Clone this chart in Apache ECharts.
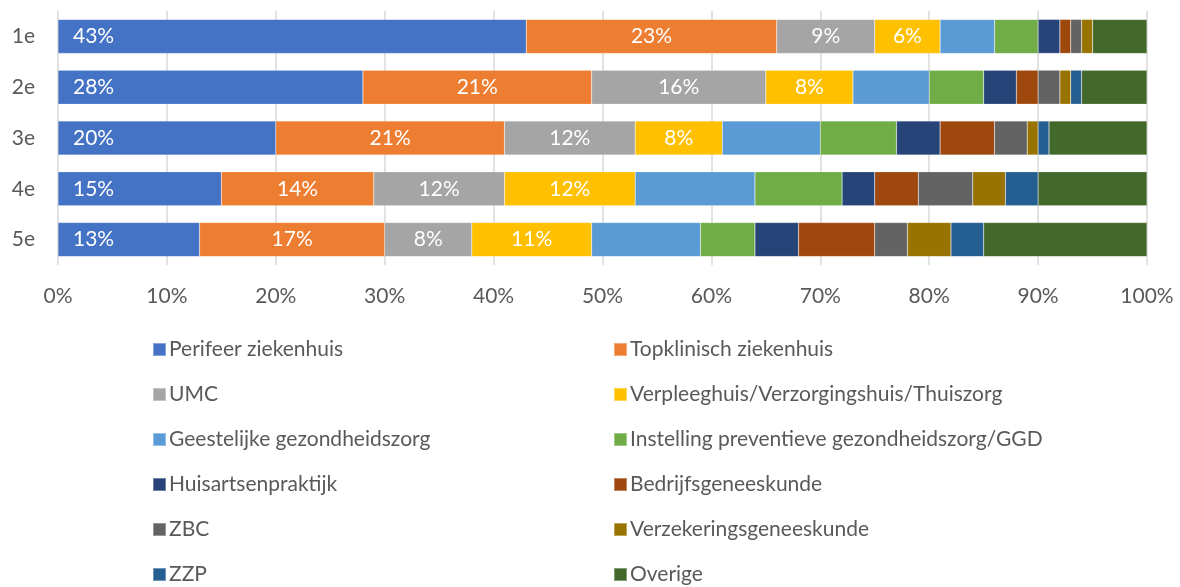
<!DOCTYPE html>
<html>
<head>
<meta charset="utf-8">
<script src="https://cdn.jsdelivr.net/npm/echarts@6/dist/echarts.min.js"></script>
<style>
  html, body { margin: 0; padding: 0; background: #fff; }
  #chart { width: 1180px; height: 587px; }
</style>
</head>
<body>
<div id="chart"></div>
<script>
var categories = ["1e", "2e", "3e", "4e", "5e"];
var seriesNames = [
  "Perifeer ziekenhuis", "Topklinisch ziekenhuis", "UMC",
  "Verpleeghuis/Verzorgingshuis/Thuiszorg", "Geestelijke gezondheidszorg",
  "Instelling preventieve gezondheidszorg/GGD", "Huisartsenpraktijk",
  "Bedrijfsgeneeskunde", "ZBC", "Verzekeringsgeneeskunde", "ZZP", "Overige"
];
// percentages per series, in category order 1e..5e
var perifeer = [43, 28, 20, 15, 13];
var topklinisch = [23, 21, 21, 14, 17];
var umc = [9, 16, 12, 12, 8];
var verpleeghuis = [6, 8, 8, 12, 11];
var geestelijke = [5, 7, 9, 11, 10];
var preventief = [4, 5, 7, 8, 5];
var huisarts = [2, 3, 4, 3, 4];
var bedrijf = [1, 2, 5, 4, 7];
var zbc = [1, 2, 3, 5, 3];
var verzekering = [1, 1, 1, 3, 4];
var zzp = [0, 1, 1, 3, 3];
var overige = [5, 6, 9, 10, 15];
var xTicks = [0, 10, 20, 30, 40, 50, 60, 70, 80, 90, 100];

var allData = [perifeer, topklinisch, umc, verpleeghuis, geestelijke, preventief,
  huisarts, bedrijf, zbc, verzekering, zzp, overige];
var colors = ["#4472C4", "#ED7D31", "#A5A5A5", "#FFC000", "#5B9BD5", "#70AD47",
  "#264478", "#9E480E", "#636363", "#997300", "#255E91", "#43682B"];

var font = "Lato, 'Liberation Sans', sans-serif";
var series = seriesNames.map(function (name, i) {
  return {
    name: name,
    type: "bar",
    stack: "total",
    barCategoryGap: "33%",
    data: allData[i],
    itemStyle: { color: colors[i], borderColor: "rgba(255,255,255,0.35)", borderWidth: 0.5 },
    label: {
      show: i < 4,
      position: i === 0 ? "insideLeft" : "inside",
      distance: 15,
      color: "#fff",
      fontSize: 21,
      fontFamily: font,
      formatter: "{c}%"
    }
  };
});

function legendCol(names, left) {
  return {
    data: names,
    orient: "vertical",
    left: left,
    top: 334,
    height: 300,
    itemWidth: 13,
    itemHeight: 13,
    itemGap: 24,
    icon: "rect",
    textStyle: { color: "#595959", fontSize: 21, fontFamily: font, padding: [0, 0, 0, -2] }
  };
}

var chart = echarts.init(document.getElementById("chart"));
chart.setOption({
  animation: false,
  color: colors,
  grid: { left: 58, right: 33, top: 11, bottom: 322, containLabel: false },
  xAxis: {
    type: "value",
    min: 0,
    max: 100,
    interval: 10,
    axisLine: { show: false },
    axisTick: { show: false },
    splitLine: { show: true, lineStyle: { color: "#d9d9d9", width: 1.5 } },
    axisLabel: {
      color: "#595959", fontSize: 21, fontFamily: font, margin: 21,
      formatter: function (v) { return xTicks.indexOf(v) >= 0 ? v + "%" : ""; }
    }
  },
  yAxis: {
    type: "category",
    data: categories,
    inverse: true,
    axisLine: { show: false },
    axisTick: { show: false },
    axisLabel: { color: "#595959", fontSize: 21, fontFamily: font, margin: 23 }
  },
  legend: [
    legendCol(seriesNames.filter(function (n, i) { return i % 2 === 0; }), 147),
    legendCol(seriesNames.filter(function (n, i) { return i % 2 === 1; }), 608)
  ],
  series: series
});
</script>
</body>
</html>
